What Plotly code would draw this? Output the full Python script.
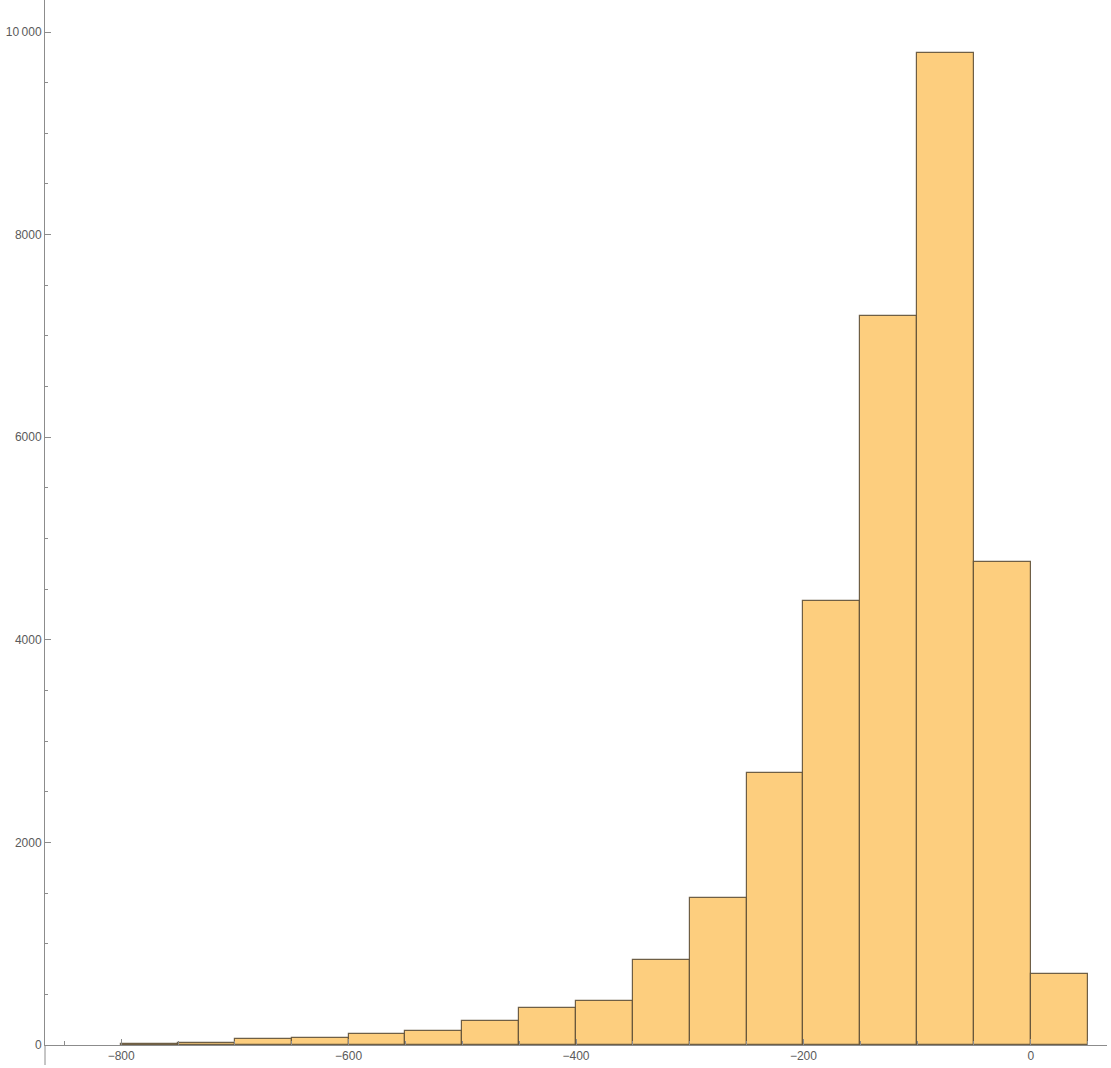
import plotly.graph_objects as go

# Histogram bins (width 50) and counts
bin_left = [-800, -750, -700, -650, -600, -550, -500, -450, -400, -350,
            -300, -250, -200, -150, -100, -50, 0]
counts = [12, 18, 56, 72, 112, 138, 234, 368, 437, 839,
          1455, 2690, 4386, 7200, 9790, 4771, 704]
bin_width = 50

x_tickvals = [-800, -600, -400, -200, 0]
x_ticktext = ["\u2212800", "\u2212600", "\u2212400", "\u2212200", "0"]
y_tickvals = [0, 2000, 4000, 6000, 8000, 10000]
y_ticktext = ["0", "2000", "4000", "6000", "8000", "10\u2009000"]

centers = [b + bin_width / 2 for b in bin_left]

fig = go.Figure()
fig.add_trace(go.Bar(
    x=centers, y=counts, width=[bin_width] * len(counts),
    marker=dict(color="rgb(253,206,126)",
                line=dict(color="rgba(95,80,55,0.9)", width=1.2)),
    hoverinfo="x+y",
))

axis_col = "#8c8c8c"
font = dict(family="Liberation Sans, Arial, sans-serif", size=12, color="#5a5a5a")

fig.update_layout(
    width=1111, height=1068,
    margin=dict(l=45, r=4, t=0, b=23),
    paper_bgcolor="white", plot_bgcolor="white",
    showlegend=False, bargap=0,
    font=font,
    xaxis=dict(
        range=[-867, 67], showgrid=False, zeroline=False, automargin=False,
        showline=True, linecolor=axis_col, linewidth=1,
        tickvals=x_tickvals, ticktext=x_ticktext,
        ticks="inside", ticklen=6, tickcolor=axis_col,
        minor=dict(dtick=50, tick0=0, ticks="inside", ticklen=4, tickcolor=axis_col),
        tickfont=font,
    ),
    yaxis=dict(
        range=[0, 10316], showgrid=False, zeroline=False, automargin=False,
        showline=True, linecolor=axis_col, linewidth=1,
        tickvals=y_tickvals, ticktext=y_ticktext,
        ticks="inside", ticklen=6, tickcolor=axis_col,
        minor=dict(dtick=500, tick0=0, ticks="inside", ticklen=3, tickcolor=axis_col),
        tickfont=font,
    ),
)

# extension of the vertical axis below the horizontal one (Mathematica style)
fig.add_shape(type="line", xref="paper", yref="paper",
              x0=0, x1=0, y0=0, y1=-20 / 1045,
              line=dict(color=axis_col, width=1))

fig.write_html(
    "out.html",
    config={"displayModeBar": False},
    post_script="document.body.style.margin='0';document.body.style.overflow='hidden';",
)
